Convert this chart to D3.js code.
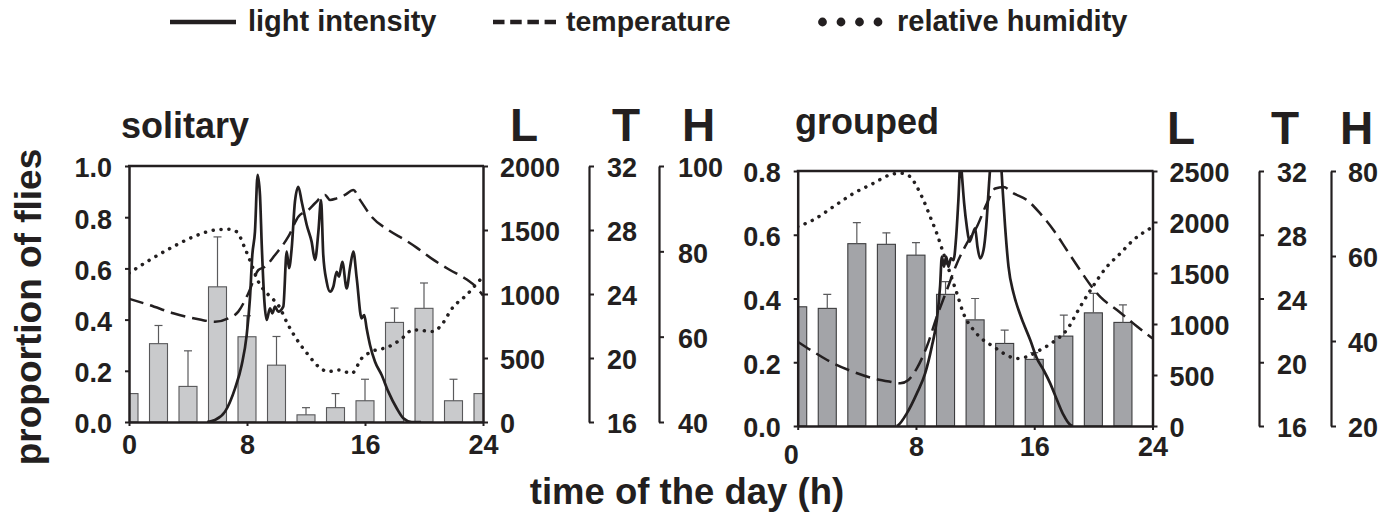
<!DOCTYPE html>
<html>
<head>
<meta charset="utf-8">
<script src="https://cdn.jsdelivr.net/npm/d3@7"></script>
<style>
  html, body { margin: 0; padding: 0; background: #fff; }
  svg { display: block; }
  text { font-family: "Liberation Sans", Arial, Helvetica, sans-serif; font-weight: bold; fill: #231f20; }
</style>
</head>
<body>
<svg id="chart" width="1394" height="517"></svg>
<script>
// ---- data -------------------------------------------------------------
const hourTicks = [0, 8, 16, 24];
const tempTicks = [16, 20, 24, 28, 32];

// solitary flies: proportion active per 2-h bin (mean, SE)
const solitaryHours = [0, 2, 4, 6, 8, 10, 12, 14, 16, 18, 20, 22, 24];
const solitaryProp  = [0.111, 0.306, 0.139, 0.528, 0.333, 0.222, 0.028, 0.056, 0.083, 0.389, 0.444, 0.083, 0.111];
const solitaryErr   = [0, 0.071, 0.139, 0.195, 0.082, 0.112, 0.028, 0.055, 0.084, 0.056, 0.099, 0.084, 0];
const solitaryPropTicks  = [0, 0.2, 0.4, 0.6, 0.8, 1.0];
const solitaryLightTicks = [0, 500, 1000, 1500, 2000];
const solitaryHumTicks   = [40, 60, 80, 100];

// grouped flies
const groupedHours = [0, 2, 4, 6, 8, 10, 12, 14, 16, 18, 20, 22];
const groupedProp  = [0.374, 0.369, 0.572, 0.570, 0.536, 0.413, 0.333, 0.259, 0.209, 0.282, 0.355, 0.325];
const groupedErr   = [0, 0.044, 0.066, 0.036, 0.039, 0.040, 0.067, 0.042, 0.021, 0.066, 0.061, 0.055];
const groupedPropTicks  = [0, 0.2, 0.4, 0.6, 0.8];
const groupedLightTicks = [0, 500, 1000, 1500, 2000, 2500];
const groupedHumTicks   = [20, 40, 60, 80];

// environmental records: [hour, value]
const solitaryLight = [[5.3,0],[5.83,16],[6.51,81],[7.19,263],[7.64,445],[7.98,680],[8.2,966],[8.36,1305],[8.54,1487],[8.72,1930],[8.88,1773],[9.0,1383],[9.18,940],[9.33,797],[9.56,888],[9.72,849],[9.9,901],[10.12,862],[10.46,901],[10.69,1331],[10.85,1201],[11.03,1357],[11.25,1721],[11.48,1838],[11.71,1721],[12.05,1539],[12.38,1409],[12.61,1266],[12.84,1487],[13.02,1734],[13.17,1305],[13.4,1096],[13.63,1018],[13.85,1057],[14.08,1174],[14.24,1135],[14.46,1252],[14.76,1044],[14.98,1201],[15.21,1331],[15.44,1122],[15.77,810],[15.95,836],[16.11,732],[16.34,602],[16.68,471],[17.13,367],[17.58,237],[18.15,107],[18.6,29],[19.17,0],[19.8,0]];
const solitaryTemp = [[0,23.7],[1.42,23.3],[3.0,22.8],[4.8,22.4],[5.83,22.27],[6.73,22.48],[7.41,22.9],[8.09,24.04],[8.77,25.5],[9.22,25.7],[9.9,26.44],[10.8,27.58],[11.48,28.83],[12.16,29.25],[12.61,29.67],[13.29,30.19],[13.63,29.88],[14.08,29.98],[14.64,30.19],[15.21,30.5],[15.66,29.88],[16.45,28.83],[17.58,28.0],[18.71,27.38],[19.5,26.9],[20.7,26.1],[21.76,25.5],[22.9,24.9],[23.57,24.4],[24,23.9]];
const solitaryHum = [[0,74.9],[1.42,78.0],[3.0,81.1],[4.36,83.4],[5.83,85.0],[6.73,85.2],[7.3,84.6],[7.86,80.7],[8.32,76.8],[8.77,72.9],[9.45,69.8],[10.12,67.4],[10.8,62.7],[11.48,58.8],[12.16,55.7],[12.84,53.0],[13.51,51.8],[14.19,52.2],[15.1,51.4],[15.77,54.9],[16.45,56.5],[17.58,57.6],[18.37,59.2],[19.28,61.6],[20.63,61.2],[21.08,62.3],[21.99,67.0],[22.9,69.8],[23.8,73.3],[24,74]];

const groupedLight = [[6.7,0],[6.81,10],[7.38,124],[8.06,320],[8.62,516],[9.07,778],[9.41,1039],[9.63,1366],[9.75,1660],[9.9,1562],[10.04,1660],[10.2,1562],[10.36,1644],[10.54,1627],[10.72,1856],[10.87,2216],[11.02,2620],[11.1,2477],[11.26,2183],[11.44,1954],[11.62,1807],[11.85,1889],[12.0,1938],[12.16,1758],[12.34,1644],[12.57,1725],[12.75,1954],[12.9,2281],[13.05,2600],[13.3,2950],[13.5,3000],[13.7,2700],[13.88,2281],[14.03,1954],[14.26,1562],[14.6,1301],[14.94,1137],[15.27,1007],[15.73,843],[16.18,663],[16.63,549],[17.08,418],[17.54,255],[17.98,108],[18.44,10],[18.6,0]];
const groupedTemp = [[0,21.29],[1.06,20.66],[2.41,19.93],[3.76,19.4],[5.12,18.99],[6.25,18.78],[6.93,18.68],[7.49,18.89],[8.06,19.62],[8.73,20.97],[9.41,22.86],[10.09,24.53],[10.77,26.2],[11.44,27.46],[12.12,28.5],[12.8,29.97],[13.36,30.9],[13.92,31.0],[14.6,30.6],[15.5,30.18],[16.4,29.34],[17.3,28.3],[18.2,27.04],[19.1,25.79],[19.8,24.85],[20.47,24.1],[21.6,23.28],[22.7,22.44],[23.85,21.6],[24,21.5]];
const groupedHum = [[0,66.9],[1.06,68.5],[2.41,71.6],[3.76,74.7],[5.12,77.1],[6.25,79.1],[6.93,79.5],[7.6,78.7],[8.06,76.3],[8.5,73.2],[8.96,69.25],[9.41,65.3],[9.86,60.6],[10.31,55.9],[10.77,51.2],[11.21,46.5],[11.89,42.6],[12.57,40.2],[13.24,38.7],[13.92,37.1],[14.83,35.9],[15.5,36.3],[16.4,37.9],[17.3,39.8],[18.2,42.6],[19.1,48.0],[20.0,53.0],[20.92,57.5],[21.82,60.6],[22.72,63.8],[23.85,66.5]];

// ---- drawing ----------------------------------------------------------
const INK = "#231f20";
const svg = d3.select("#chart");
const FONT_TICK = 27;

function styleAxis(g, domainWidth) {
  g.select(".domain").attr("stroke", INK).attr("stroke-width", domainWidth);
  g.selectAll(".tick line").attr("stroke", INK).attr("stroke-width", 2);
  g.selectAll(".tick text").attr("fill", INK).attr("font-size", FONT_TICK)
    .attr("font-family", "Liberation Sans, Arial, sans-serif").attr("font-weight", "bold");
}

function drawPanel(p) {
  const x  = d3.scaleLinear().domain([0, 24]).range([p.left, p.right]);
  const yP = d3.scaleLinear().domain([0, p.propTicks[p.propTicks.length - 1]]).range([p.bottom, p.top]);
  const yL = d3.scaleLinear().domain([0, p.lightTicks[p.lightTicks.length - 1]]).range([p.bottom, p.top]);
  const yT = d3.scaleLinear().domain([16, 32]).range([p.bottom, p.top]);
  const yH = d3.scaleLinear().domain([p.humTicks[0], p.humTicks[p.humTicks.length - 1]]).range([p.bottom, p.top]);

  const clipId = "clip-" + p.id;
  svg.append("clipPath").attr("id", clipId).append("rect")
    .attr("x", p.left).attr("y", p.top)
    .attr("width", p.right - p.left).attr("height", p.bottom - p.top);

  const plot = svg.append("g").attr("clip-path", `url(#${clipId})`);
  const rows = p.hours.map((h, i) => ({ h, v: p.prop[i], e: p.err[i] }));
  const half = 0.61;

  plot.append("g").selectAll("rect").data(rows).join("rect")
    .attr("x", d => x(d.h - half))
    .attr("width", d => x(d.h + half) - x(d.h - half))
    .attr("y", d => yP(d.v))
    .attr("height", d => yP(0) - yP(d.v))
    .attr("fill", p.barFill).attr("stroke", p.barStroke).attr("stroke-width", 1.1);

  const err = plot.append("g").attr("stroke", "#5a5a5c").attr("stroke-width", 1.2);
  const withErr = rows.filter(d => d.e > 0);
  err.selectAll("line.v").data(withErr).join("line").attr("class", "v")
    .attr("x1", d => x(d.h)).attr("x2", d => x(d.h))
    .attr("y1", d => yP(d.v)).attr("y2", d => yP(d.v + d.e));
  err.selectAll("line.c").data(withErr).join("line").attr("class", "c")
    .attr("x1", d => x(d.h) - 4).attr("x2", d => x(d.h) + 4)
    .attr("y1", d => yP(d.v + d.e)).attr("y2", d => yP(d.v + d.e));

  const lineGen = ys => d3.line().x(d => x(d[0])).y(d => ys(d[1])).curve(d3.curveMonotoneX);
  plot.append("path").datum(p.hum).attr("d", lineGen(yH))
    .attr("fill", "none").attr("stroke", INK).attr("stroke-width", 3.5)
    .attr("stroke-linecap", "round").attr("stroke-dasharray", "0.1 7.8");
  plot.append("path").datum(p.temp).attr("d", lineGen(yT))
    .attr("fill", "none").attr("stroke", INK).attr("stroke-width", 2.5)
    .attr("stroke-dasharray", "15 7");
  plot.append("path").datum(p.light).attr("d", lineGen(yL))
    .attr("fill", "none").attr("stroke", INK).attr("stroke-width", 2.7)
    .attr("stroke-linejoin", "round");

  // frame top edge
  svg.append("line").attr("x1", p.left - 1).attr("x2", p.right + 1)
    .attr("y1", p.top).attr("y2", p.top)
    .attr("stroke", INK).attr("stroke-width", 2.5);

  // proportion axis
  const ax = svg.append("g").attr("transform", `translate(${p.left},0)`)
    .call(d3.axisLeft(yP).tickValues(p.propTicks).tickFormat(d3.format(".1f"))
      .tickSize(4).tickPadding(13).tickSizeOuter(0));
  styleAxis(ax, 2.5);
  ax.selectAll(".tick text").attr("dy", "0.4em");

  // time axis
  const bx = svg.append("g").attr("transform", `translate(0,${p.bottom})`)
    .call(d3.axisBottom(x).tickValues(hourTicks).tickFormat(d3.format("d"))
      .tickSize(4).tickPadding(p.xPad).tickSizeOuter(0));
  styleAxis(bx, 2.5);
  if (p.zeroShift) {
    bx.selectAll(".tick text").filter(d => d === 0)
      .attr("transform", `translate(${p.zeroShift[0]},${p.zeroShift[1]})`);
  }

  // light axis on the frame's right edge
  const lx = svg.append("g").attr("transform", `translate(${p.right},0)`)
    .call(d3.axisRight(yL).tickValues(p.lightTicks).tickFormat(d3.format("d"))
      .tickSize(5).tickPadding(12).tickSizeOuter(0));
  styleAxis(lx, 2.5);
  lx.selectAll(".tick text").attr("dy", "0.4em");

  // temperature axis
  const tx = svg.append("g").attr("transform", `translate(${p.tAxisX},0)`)
    .call(d3.axisRight(yT).tickValues(tempTicks).tickFormat(d3.format("d"))
      .tickSize(5).tickPadding(13).tickSizeOuter(0));
  styleAxis(tx, 2.2);
  tx.selectAll(".tick text").attr("dy", "0.4em");

  // humidity axis
  const hx = svg.append("g").attr("transform", `translate(${p.hAxisX},0)`)
    .call(d3.axisRight(yH).tickValues(p.humTicks).tickFormat(d3.format("d"))
      .tickSize(5).tickPadding(p.hPad).tickSizeOuter(0));
  styleAxis(hx, 2.2);
  hx.selectAll(".tick text").attr("dy", "0.4em");

  // panel title and axis headers
  svg.append("text").attr("x", p.titleX).attr("y", p.titleY)
    .attr("font-size", 36).text(p.title);
  [["L", p.hdr[0]], ["T", p.hdr[1]], ["H", p.hdr[2]]].forEach(([t, hx0]) => {
    svg.append("text").attr("x", hx0).attr("y", p.hdrY).attr("font-size", 46).text(t);
  });
}

drawPanel({
  id: "solitary", title: "solitary", titleX: 121, titleY: 138,
  left: 129, right: 483, top: 166, bottom: 422,
  hours: solitaryHours, prop: solitaryProp, err: solitaryErr,
  light: solitaryLight, temp: solitaryTemp, hum: solitaryHum,
  propTicks: solitaryPropTicks, lightTicks: solitaryLightTicks, humTicks: solitaryHumTicks,
  barFill: "#c9cacc", barStroke: "#58585a",
  tAxisX: 589, hAxisX: 659, hPad: 14, xPad: 8.5,
  hdr: [510, 612, 682], hdrY: 141
});

drawPanel({
  id: "grouped", title: "grouped", titleX: 795, titleY: 134,
  left: 797.7, right: 1152.5, top: 171, bottom: 426,
  hours: groupedHours, prop: groupedProp, err: groupedErr,
  light: groupedLight, temp: groupedTemp, hum: groupedHum,
  propTicks: groupedPropTicks, lightTicks: groupedLightTicks, humTicks: groupedHumTicks,
  barFill: "#a3a4a8", barStroke: "#3c3c3e",
  tAxisX: 1259, hAxisX: 1331, hPad: 12, xPad: 6.5, zeroShift: [-7, 8],
  hdr: [1167, 1271, 1340], hdrY: 143.5
});

// shared axis titles
svg.append("text")
  .attr("transform", "translate(41,307) rotate(-90)")
  .attr("text-anchor", "middle").attr("font-size", 37)
  .text("proportion of flies");
svg.append("text")
  .attr("x", 687).attr("y", 504).attr("text-anchor", "middle").attr("font-size", 36.5)
  .text("time of the day (h)");

// legend
const legend = svg.append("g");
legend.append("line").attr("x1", 170).attr("x2", 236).attr("y1", 22).attr("y2", 22)
  .attr("stroke", INK).attr("stroke-width", 4.5);
legend.append("text").attr("x", 248).attr("y", 31).attr("font-size", 29).text("light intensity");
legend.append("line").attr("x1", 493).attr("x2", 556).attr("y1", 22).attr("y2", 22)
  .attr("stroke", INK).attr("stroke-width", 4.5).attr("stroke-dasharray", "11.5 5.7");
legend.append("text").attr("x", 566).attr("y", 31).attr("font-size", 28.5).text("temperature");
legend.selectAll("circle").data([0, 1, 2, 3]).join("circle")
  .attr("cx", d => 822.5 + d * 18.5).attr("cy", 22).attr("r", 4.4).attr("fill", INK);
legend.append("text").attr("x", 897).attr("y", 31).attr("font-size", 29).text("relative humidity");
</script>
</body>
</html>
